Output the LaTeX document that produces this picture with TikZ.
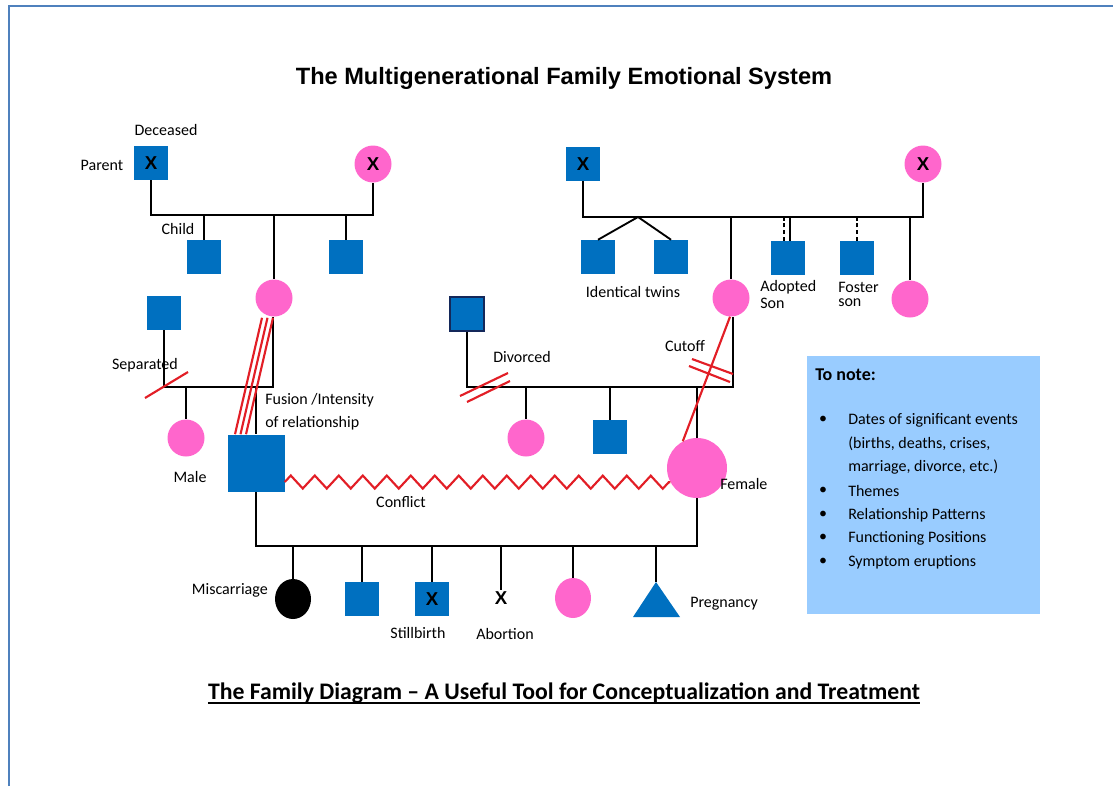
\documentclass[tikz,border=0pt]{standalone}
\usepackage{fontspec}
\setmainfont{Carlito}
\newfontfamily\arialf{Liberation Sans}
\usetikzlibrary{calc,shapes.geometric,decorations.pathmorphing}
\definecolor{sqblue}{RGB}{0,112,192}
\definecolor{pinkc}{RGB}{255,102,204}
\definecolor{redl}{RGB}{226,30,38}
\definecolor{noteblue}{RGB}{153,204,255}
\definecolor{framec}{RGB}{79,129,189}
\definecolor{navy}{RGB}{20,40,90}
\tikzset{
  ln/.style={line width=1.4pt, black},
  rl/.style={line width=1.6pt, redl},
  sq/.style={rectangle, fill=sqblue, minimum size=34*0.75pt, inner sep=0pt},
  bigsq/.style={rectangle, fill=sqblue, minimum size=57*0.75pt, inner sep=0pt},
  ci/.style={circle, fill=pinkc, minimum size=37*0.75pt, inner sep=0pt},
  bigci/.style={circle, fill=pinkc, minimum size=60*0.75pt, inner sep=0pt},
  xmark/.style={font=\arialf\bfseries\fontsize{14}{14}\selectfont, text=black},
  lbl/.style={font=\fontsize{12}{14}\selectfont, inner sep=0pt},
  dsh/.style={line width=1.4pt, black, dash pattern=on 3pt off 2pt},
}
\begin{document}
\begin{tikzpicture}[x=0.75pt,y=-0.75pt]
\useasboundingbox (0,0) rectangle (1113,786);
\draw[framec, line width=1.6pt] (9,786) -- (9,6) -- (1113,6);

% titles
\node[font=\arialf\bfseries\fontsize{17.7}{20}\selectfont] (title) at (564,78) {The Multigenerational Family Emotional System};
\node[font=\bfseries\fontsize{17.8}{20}\selectfont, inner sep=0pt] (subtitle) at (564,693) {The Family Diagram -- A Useful Tool for Conceptualization and Treatment};
\draw[line width=1.6pt] ([yshift=-2.8pt]subtitle.base west) -- ([yshift=-2.8pt]subtitle.base east);

% ---------- top-left family ----------
\node[sq, xmark] (gf1) at (151,163) {X};
\node[ci, xmark] (gm1) at (373,164) {X};
\coordinate (m1L) at (151,215);
\coordinate (m1R) at (373,215);
\draw[ln] (gf1) -- (m1L) -- (m1R) -- (gm1);
\node[sq] (c11) at (204,257) {};
\node[ci] (mom) at (274,298) {};
\node[sq] (c13) at (346,257) {};
\draw[ln] (c11.north |- m1L) -- (c11);
\draw[ln] (mom.north |- m1L) -- (mom);
\draw[ln] (c13.north |- m1L) -- (c13);
\node[lbl] (lDec) at (166,130) {Deceased};
\node[lbl] (lPar) at (102,165) {Parent};
\node[lbl] (lChi) at (178,229) {Child};

% ---------- left middle family ----------
\node[sq] (h1) at (164,313) {};
\coordinate (m2L) at (164,387);
\coordinate (m2R) at (273,387);
\draw[ln] (h1) -- (m2L) -- (m2R) -- (mom.south -| m2R);
\node[ci] (d1) at (186,438) {};
\draw[ln] (d1.north |- m2L) -- (d1);
\node[bigsq] (ego) at (256,463) {};
\draw[ln] (ego.north |- m2L) -- (ego);
\coordinate (sepA) at (145,398);
\coordinate (sepB) at (188,372);
\draw[rl] (sepA) -- (sepB);
\node[lbl] (lSep) at (145,365) {Separated};
\foreach \d in {0,5.5,11}{
  \draw[rl] ($(mom.south)+(-12+\d,1)$) -- ($(ego.north)+(-21+\d,0)$);
}
\node[lbl, anchor=west] (lFus1) at (265,400) {Fusion /Intensity};
\node[lbl, anchor=west] (lFus2) at (265,423) {of relationship};
\node[lbl] (lMale) at (190,477) {Male};

% ---------- top-right family ----------
\node[sq, xmark] (gf2) at (583,164) {X};
\node[ci, xmark] (gm2) at (923,164) {X};
\coordinate (m4L) at (583,217);
\coordinate (m4R) at (923,217);
\draw[ln] (gf2) -- (m4L) -- (m4R) -- (gm2);
\coordinate (tw) at (638,217);
\node[sq] (t1) at (598,257) {};
\node[sq] (t2) at (671,257) {};
\draw[ln] (t1.north) -- (tw) -- (t2.north);
\node[lbl] (lTw) at (633,292) {Identical twins};
\node[ci] (mom2) at (731,298) {};
\draw[ln] (mom2.north |- m4L) -- (mom2);
\node[sq] (ad) at (788,258) {};
\draw[dsh] ([xshift=-3pt]ad.north) -- ([xshift=-3pt]ad.north |- m4L);
\draw[ln] ([xshift=1.5pt]ad.north) -- ([xshift=1.5pt]ad.north |- m4L);
\node[sq] (fs) at (857,258) {};
\draw[dsh] (fs.north) -- (fs.north |- m4L);
\node[ci] (a3) at (910,299) {};
\draw[ln] (a3.north |- m4L) -- (a3);
\node[lbl, anchor=west] (lAd1) at (760,287) {Adopted};
\node[lbl, anchor=west] (lAd2) at (760,303) {Son};
\node[lbl, anchor=west] (lFo1) at (838,287) {Foster};
\node[lbl, anchor=west] (lFo2) at (838,303) {son};

% ---------- right middle family ----------
\node[sq, draw=navy, line width=1pt] (h2) at (467,314) {};
\coordinate (m3L) at (467,387);
\coordinate (m3R) at (733,387);
\draw[ln] (h2) -- (m3L) -- (m3R) -- (mom2.south -| m3R);
\node[ci] (d3) at (526,438) {};
\draw[ln] (d3.north |- m3L) -- (d3);
\node[sq] (d4) at (610,437) {};
\draw[ln] (d4.north |- m3L) -- (d4);
\node[bigci] (fem) at (697,468) {};
\draw[ln] (fem.north |- m3L) -- (fem);
\coordinate (divA1) at (460,396);
\coordinate (divB1) at (508,373);
\coordinate (divA2) at (467,402);
\coordinate (divB2) at (510,381);
\draw[rl] (divA1) -- (divB1);
\draw[rl] (divA2) -- (divB2);
\node[lbl] (lDiv) at (522,357) {Divorced};
\draw[rl] (mom2.-93) -- (fem.118);
\coordinate (cutA1) at (692,359);
\coordinate (cutB1) at (733,374);
\coordinate (cutA2) at (689,366);
\coordinate (cutB2) at (730,382);
\draw[rl] (cutA1) -- (cutB1);
\draw[rl] (cutA2) -- (cutB2);
\node[lbl] (lCut) at (685,346) {Cutoff};
\node[lbl, anchor=west] (lFem) at (720,484) {Female};

% conflict
\draw[rl, decorate, decoration={zigzag, segment length=24*0.75pt, amplitude=6.5*0.75pt}] ($(ego.east)+(0,19)$) -- (fem.208);
\node[lbl] (lCon) at (401,502) {Conflict};

% ---------- bottom generation ----------
\coordinate (m5L) at (256,546);
\coordinate (m5R) at (697,546);
\draw[ln] (ego) -- (m5L) -- (m5R) -- (fem);
\node[ellipse, fill=black, minimum width=36*0.75pt, minimum height=40*0.75pt, inner sep=0pt] (mc) at (293,599) {};
\node[sq] (b2) at (362,599) {};
\node[sq, xmark] (sb) at (432,599) {X};
\node[xmark, inner sep=1pt] (ab) at (501,598) {X};
\node[ellipse, fill=pinkc, minimum width=36*0.75pt, minimum height=40*0.75pt, inner sep=0pt] (b5) at (573,598) {};
\fill[sqblue] (633,617) -- (656,582) -- (680,617) -- cycle;
\coordinate (pg) at (656,582);
\foreach \n in {mc,b2,sb,ab,b5}{
  \draw[ln] (\n.north |- m5L) -- (\n.north);
}
\draw[ln] (pg |- m5L) -- (pg);
\node[lbl, anchor=east] (lMis) at (268,590) {Miscarriage};
\node[lbl] (lSti) at (418,633) {Stillbirth};
\node[lbl] (lAbo) at (505,634) {Abortion};
\node[lbl, anchor=west] (lPre) at (690,604) {Pregnancy};

% ---------- note box ----------
\node[fill=noteblue, minimum width=233*0.75pt, minimum height=258*0.75pt, anchor=north west, inner sep=0pt] (note) at (807,356) {};
\node[lbl, font=\bfseries\fontsize{13.5}{15}\selectfont, anchor=west] (nT) at (815,375) {To note:};
\foreach \y/\b/\t in {420/1/Dates of significant events, 444/0/{(births, deaths, crises,}, 467/0/{marriage, divorce, etc.)}, 491/1/Themes, 515/1/Relationship Patterns, 538/1/Functioning Positions, 562/1/Symptom eruptions}{
  \node[lbl, anchor=west] at (848,\y) {\t};
  \ifnum\b=1 \node[lbl] at (823,\y) {\textbullet}; \fi
}
\end{tikzpicture}
\end{document}
